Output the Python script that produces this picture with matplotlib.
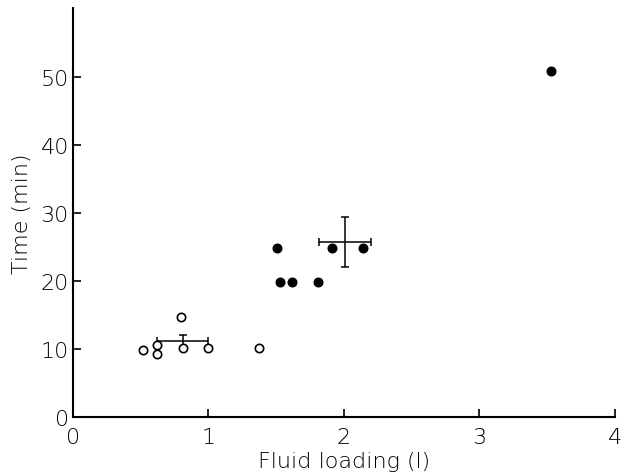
import matplotlib.pyplot as plt

plt.rcParams['font.family'] = ['DejaVu Sans']
plt.rcParams['font.weight'] = 'light'

# open circles: lower fluid loading group
open_x = [0.52, 0.62, 0.62, 0.80, 0.81, 1.00, 1.37]
open_y = [9.8, 10.6, 9.2, 14.7, 10.1, 10.1, 10.1]
open_mean = (0.81, 11.1)
open_err = (0.19, 0.9)

# filled circles: higher fluid loading group
filled_x = [1.51, 1.53, 1.62, 1.81, 1.91, 2.14, 3.53]
filled_y = [24.8, 19.8, 19.8, 19.8, 24.8, 24.9, 50.9]
filled_mean = (2.01, 25.7)
filled_err = (0.19, 3.7)

x_ticks = [0, 1, 2, 3, 4]
y_ticks = [0, 10, 20, 30, 40, 50]

fig = plt.figure(figsize=(6.26, 4.77), dpi=100)
ax = fig.add_axes([0.1166, 0.1237, 0.8654, 0.857])

ax.plot(open_x, open_y, 'o', mfc='white', mec='black', mew=1.2, ms=6, zorder=3)
ax.plot(filled_x, filled_y, 'o', color='black', ms=6.2, zorder=3)

for (mx, my), (ex, ey) in [(open_mean, open_err), (filled_mean, filled_err)]:
    ax.errorbar(mx, my, xerr=ex, yerr=ey, fmt='none', ecolor='black',
                elinewidth=1.1, capsize=3, capthick=1.1, zorder=2)

ax.set_xlim(0, 4)
ax.set_ylim(0, 60.1)
ax.set_xticks(x_ticks)
ax.set_yticks(y_ticks)
ax.tick_params(direction='in', length=6, width=1.2, labelsize=16)
ax.tick_params(axis='x', pad=7)
ax.tick_params(axis='y', pad=3)
for s in ['top', 'right']:
    ax.spines[s].set_visible(False)
for s in ['left', 'bottom']:
    ax.spines[s].set_linewidth(1.5)

ax.set_xlabel('Fluid loading (l)', fontsize=16, fontweight='light', labelpad=3)
ax.set_ylabel('Time (min)', fontsize=16, fontweight='light', labelpad=6)

fig.savefig('out.png', dpi=100)
